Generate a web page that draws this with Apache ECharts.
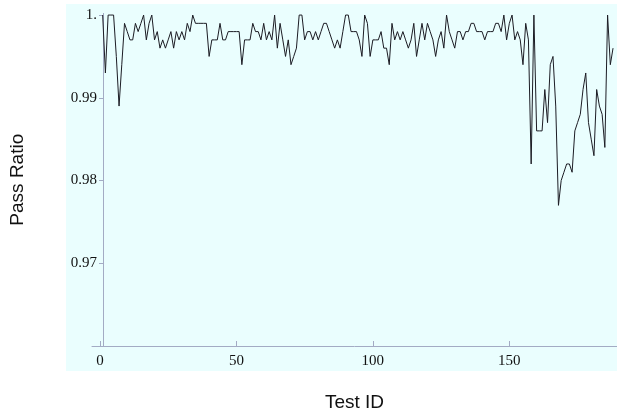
<!DOCTYPE html>
<html>
<head>
<meta charset="utf-8">
<script src="https://cdn.jsdelivr.net/npm/echarts@6/dist/echarts.min.js"></script>
<style>html,body{margin:0;padding:0;background:#fff}#c{width:617px;height:419px}</style>
</head>
<body>
<div id="c"></div>
<script>
var testIds = [];
for (var k = 1; k <= 188; k++) testIds.push(k);
var passRatio = [
1.0,0.993,1.0,1.0,1.0,0.995,0.989,0.994,0.999,0.998,
0.997,0.997,0.999,0.998,0.999,1.0,0.997,0.999,1.0,0.997,
0.998,0.996,0.997,0.996,0.997,0.998,0.996,0.998,0.997,0.998,
0.997,0.999,0.998,1.0,0.999,0.999,0.999,0.999,0.999,0.995,
0.997,0.997,0.997,0.999,0.997,0.997,0.998,0.998,0.998,0.998,
0.998,0.994,0.997,0.997,0.997,0.999,0.998,0.998,0.997,0.999,
0.997,0.998,0.997,1.0,0.996,0.999,0.997,0.995,0.997,0.994,
0.995,0.996,1.0,1.0,0.997,0.998,0.998,0.997,0.998,0.997,
0.998,0.999,0.999,0.998,0.997,0.996,0.997,0.996,0.998,1.0,
1.0,0.998,0.998,0.998,0.997,0.995,1.0,0.999,0.995,0.997,
0.997,0.997,0.998,0.996,0.996,0.994,0.999,0.997,0.998,0.997,
0.998,0.997,0.996,0.997,0.999,0.995,0.997,0.999,0.997,0.999,
0.998,0.997,0.995,0.997,0.998,0.996,1.0,0.998,0.997,0.996,
0.998,0.998,0.997,0.998,0.998,0.999,0.999,0.998,0.998,0.998,
0.997,0.998,0.998,0.998,0.999,0.999,0.998,1.0,0.997,0.999,
1.0,0.997,0.998,0.997,0.994,0.999,0.997,0.982,1.0,0.986,
0.986,0.986,0.991,0.987,0.994,0.995,0.989,0.977,0.980,0.981,
0.982,0.982,0.981,0.986,0.987,0.988,0.991,0.993,0.987,0.985,
0.983,0.991,0.989,0.988,0.984,1.0,0.994,0.996
];
var xTicks = [0, 50, 100, 150];
var yTicks = [0.97, 0.98, 0.99, 1.0];
var yTickLabels = ['0.97', '0.98', '0.99', '1.'];

var data = testIds.map(function (x, i) { return [x, passRatio[i]]; });
var chart = echarts.init(document.getElementById('c'), null, {renderer: 'canvas'});
var axisCol = '#a3abc4';
chart.setOption({
  animation: false,
  graphic: [{
    type: 'rect', z: -10, silent: true,
    shape: {x: 66, y: 4, width: 551, height: 367},
    style: {fill: '#eafefe'}
  }],
  grid: {left: 88, right: 0, top: 13.4, bottom: 73},
  xAxis: {
    type: 'value', min: -2.91, max: 189.45,
    name: 'Test ID', nameLocation: 'middle', nameGap: 47,
    nameTextStyle: {fontFamily: 'Liberation Sans', fontSize: 19, color: '#111'},
    axisLine: {show: true, onZero: false, lineStyle: {color: axisCol, width: 1}},
    axisTick: {show: true, inside: true, length: 5, customValues: xTicks, lineStyle: {color: axisCol}},
    axisLabel: {customValues: xTicks, margin: 8, fontFamily: 'Liberation Serif', fontSize: 15, color: '#111'},
    splitLine: {show: false}
  },
  yAxis: {
    type: 'value', min: 0.96, max: 1.0002, offset: -11,
    name: 'Pass Ratio', nameLocation: 'middle', nameGap: 76, nameRotate: 90,
    nameTextStyle: {fontFamily: 'Liberation Sans', fontSize: 19, color: '#111'},
    axisLine: {show: true, onZero: false, lineStyle: {color: axisCol, width: 1}},
    axisTick: {show: true, inside: false, length: 4, customValues: yTicks, lineStyle: {color: axisCol}},
    axisLabel: {
      customValues: yTicks, margin: 6, fontFamily: 'Liberation Serif', fontSize: 15, color: '#111',
      formatter: function (v) { var i = yTicks.indexOf(v); return i >= 0 ? yTickLabels[i] : ''; }
    },
    splitLine: {show: false}
  },
  series: [{
    type: 'line', data: data, showSymbol: false, clip: false,
    lineStyle: {color: '#1c1c24', width: 1},
    emphasis: {disabled: true}
  }]
});
</script>
</body>
</html>
